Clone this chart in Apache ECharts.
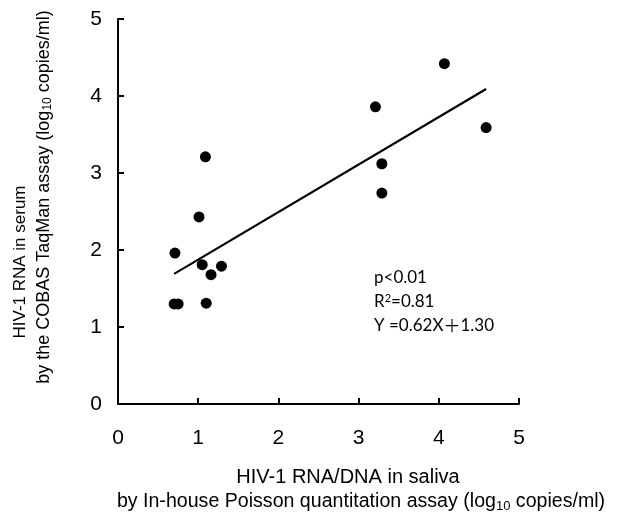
<!DOCTYPE html>
<html>
<head>
<meta charset="utf-8">
<script src="https://cdn.jsdelivr.net/npm/echarts@6/dist/echarts.min.js"></script>
<style>
  html, body { margin: 0; padding: 0; background: #fff; }
  #chart { width: 618px; height: 517px; }
</style>
</head>
<body>
<div id="chart"></div>
<script>
// saliva (x) vs serum (y), log10 copies/ml
const salivaX = [0.71, 0.70, 0.75, 1.01, 1.05, 1.09, 1.10, 1.16, 1.29, 3.21, 3.29, 3.29, 4.07, 4.59];
const serumY  = [1.96, 1.30, 1.30, 2.43, 1.81, 3.21, 1.31, 1.68, 1.79, 3.86, 3.12, 2.74, 4.42, 3.59];
// fitted line end points as drawn
const fitX = [0.70, 4.59];
const fitY = [1.69, 4.09];
const axisTicks = [0, 1, 2, 3, 4, 5];
const statsLines = ['p<0.01', 'R{sup|2}=0.81', 'Y =0.62X{plus|＋}1.30'];

const chart = echarts.init(document.getElementById('chart'), null, { renderer: 'canvas' });

const axisBase = {
  min: axisTicks[0],
  max: axisTicks[axisTicks.length - 1],
  interval: 1,
  splitLine: { show: false },
  axisLine: { show: true, lineStyle: { color: '#000', width: 2 } },
  axisTick: { show: true, inside: true, length: 6, lineStyle: { color: '#000', width: 2 } },
  axisLabel: { color: '#000', fontSize: 21, fontFamily: 'Liberation Sans' }
};

const option = {
  backgroundColor: '#fff',
  animation: false,
  grid: { left: 118, right: 99, top: 19, bottom: 113 },
  xAxis: Object.assign({}, axisBase, {
    type: 'value',
    axisLabel: Object.assign({}, axisBase.axisLabel, { margin: 24 })
  }),
  yAxis: Object.assign({}, axisBase, {
    type: 'value',
    axisLabel: Object.assign({}, axisBase.axisLabel, { margin: 16 })
  }),
  series: [
    {
      type: 'scatter',
      data: salivaX.map((x, i) => [x, serumY[i]]),
      symbolSize: 11,
      itemStyle: { color: '#000', opacity: 1 },
      z: 3
    },
    {
      type: 'line',
      data: fitX.map((x, i) => [x, fitY[i]]),
      symbol: 'none',
      lineStyle: { color: '#000', width: 2.2 },
      z: 2
    }
  ],
  graphic: [
    // y axis title, two rotated lines
    {
      type: 'text', x: 20, y: 262, rotation: Math.PI / 2,
      style: {
        text: 'HIV-1 RNA in serum',
        font: '17px "Liberation Sans"', fill: '#000',
        align: 'center', verticalAlign: 'middle'
      }
    },
    {
      type: 'text', x: 44, y: 197, rotation: Math.PI / 2,
      style: {
        text: 'by the COBAS TaqMan assay (log{sub|10} copies/ml)',
        font: '18px "Liberation Sans"', fill: '#000',
        align: 'center', verticalAlign: 'middle',
        rich: { sub: { fontSize: 12, fontFamily: 'Liberation Sans', padding: [8, 0, 0, 0] } }
      }
    },
    // x axis title
    {
      type: 'text', x: 348, y: 477,
      style: {
        text: 'HIV-1 RNA/DNA in saliva',
        font: '20px "Liberation Sans"', fill: '#000',
        align: 'center', verticalAlign: 'middle'
      }
    },
    {
      type: 'text', x: 361, y: 502,
      style: {
        text: 'by In-house Poisson quantitation assay (log{sub|10} copies/ml)',
        font: '19.6px "Liberation Sans"', fill: '#000',
        align: 'center', verticalAlign: 'middle',
        rich: { sub: { fontSize: 13, fontFamily: 'Liberation Sans', padding: [9, 0, 0, 0] } }
      }
    },
    // regression stats
    ...statsLines.map((t, i) => ({
      type: 'text', x: 374, y: 278 + i * 24,
      style: {
        text: t,
        font: '17px Lato', fill: '#000',
        align: 'left', verticalAlign: 'middle',
        rich: {
          sup: { fontSize: 11, fontFamily: 'Lato', padding: [0, 0, 8, 0] },
          plus: { fontSize: 17, fontFamily: 'Noto Sans CJK SC' }
        }
      }
    }))
  ]
};

chart.setOption(option);
</script>
</body>
</html>
